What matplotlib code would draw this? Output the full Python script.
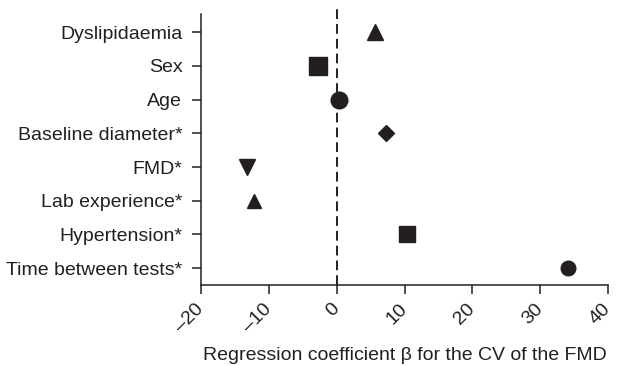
import matplotlib
matplotlib.use("Agg")
import matplotlib.pyplot as plt
from matplotlib.transforms import ScaledTranslation

categories = ["Dyslipidaemia", "Sex", "Age", "Baseline diameter*", "FMD*",
              "Lab experience*", "Hypertension*", "Time between tests*"]
values = [5.6, -2.8, 0.35, 7.3, -13.2, -12.2, 10.4, 34.1]
markers = ["^", "s", "o", "D", "v", "^", "s", "o"]
msizes = [12, 13, 12, 7.8, 11, 10.5, 11, 10.5]
xticks = [-20, -10, 0, 10, 20, 30, 40]

plt.rcParams['font.family'] = ['Liberation Sans', 'DejaVu Sans']
col = '#231f20'
fs = 14

fig = plt.figure(figsize=(6.17, 3.66), dpi=100)
ax = fig.add_axes([0.3258, 0.2213, 0.6596, 0.7404])

n = len(categories)
ypos = [n - 1 - i for i in range(n)]
for y, v, m, s in zip(ypos, values, markers, msizes):
    ax.plot([v], [y], marker=m, markersize=s, color=col, linestyle='none', clip_on=False, zorder=3)

ax.plot([0, 0], [-0.5, 7.72], linestyle=(0, (5, 2.6)), color=col, linewidth=1.4, clip_on=False, zorder=2)

ax.set_xlim(-20, 40)
ax.set_ylim(-0.5, 7.54)
ax.set_yticks(ypos)
ax.set_yticklabels(categories, fontsize=fs, color=col)
ax.set_xticks(xticks)
ax.set_xticklabels([str(t).replace('-', '\u2013') for t in xticks], fontsize=fs, color=col,
                   rotation=45, ha='right', va='center', rotation_mode='anchor')
off = ScaledTranslation(4 / 100, 0, fig.dpi_scale_trans)
for lab in ax.get_xticklabels():
    lab.set_transform(lab.get_transform() + off)
ax.set_xlabel("Regression coefficient \u03b2 for the CV of the FMD", fontsize=fs, color=col, labelpad=8)

for sp in ['top', 'right']:
    ax.spines[sp].set_visible(False)
for sp in ['left', 'bottom']:
    ax.spines[sp].set_linewidth(1.1)
    ax.spines[sp].set_color(col)
ax.tick_params(axis='both', length=6.5, width=1.1, color=col)
ax.tick_params(axis='y', pad=7)
ax.tick_params(axis='x', pad=9)

fig.savefig("out.png", dpi=100)
